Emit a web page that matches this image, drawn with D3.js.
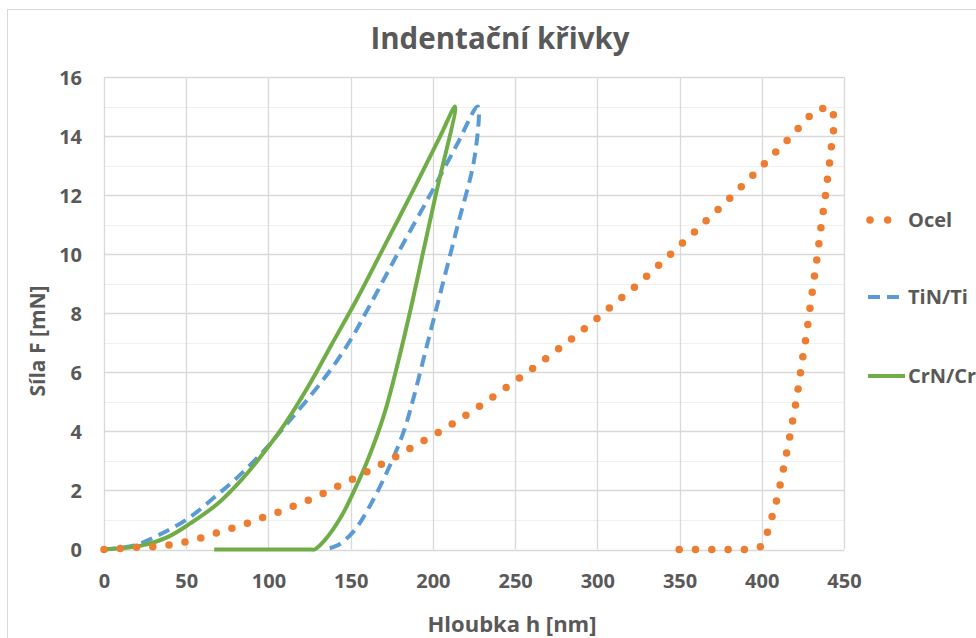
<!DOCTYPE html>
<html>
<head>
<meta charset="utf-8">
<script src="https://cdn.jsdelivr.net/npm/d3@7"></script>
<style>
  html, body { margin: 0; padding: 0; background: #fff; }
  svg { display: block; }
  text { font-family: "Open Sans", "Liberation Sans", sans-serif; font-weight: bold; fill: #595959; }
</style>
</head>
<body>
<svg id="chart" width="976" height="638"></svg>
<script>
// ---- Data ----
const chartTitle = "Indentační křivky";
const xTitle = "Hloubka h [nm]";
const yTitle = "Síla F [mN]";
const xTicks = [0, 50, 100, 150, 200, 250, 300, 350, 400, 450];
const yTicks = [0, 2, 4, 6, 8, 10, 12, 14, 16];
const yMinorTicks = [1, 3, 5, 7, 9, 11, 13, 15];
const seriesNames = ["Ocel", "TiN/Ti", "CrN/Cr"];

// Ocel (steel): loading then unloading
const ocelH = [0, 21.5, 31, 41.4, 51.3, 61, 70.5, 80.3, 90, 99.5, 109, 118.6, 128, 137, 146, 155, 164, 173.5, 182, 191, 200, 209, 217.5, 226, 234,
  242, 250, 258, 266, 274, 282, 290, 298.5, 307.5, 315, 322.7, 330.6, 338, 345.4, 353, 360.4, 367.7, 375.2, 382.5, 389.6, 396.7, 404, 411, 418, 425, 432, 441.3,
  444.5, 443.3, 442, 440.9, 439.5, 438.3, 436.8, 435.4, 434.2, 432.8, 431.3, 430, 428.5, 427.3, 425.5, 424, 422.6, 421, 419.2, 417.4, 415.5, 413.5, 411.5, 409.3, 406.6, 403.8, 399.5,
  390.6, 380.5, 370.4, 360, 349.7];
const ocelF = [0, 0.08, 0.1, 0.16, 0.28, 0.42, 0.6, 0.76, 0.94, 1.15, 1.32, 1.55, 1.75, 2.0, 2.25, 2.48, 2.76, 3.02, 3.29, 3.58, 3.86, 4.15, 4.45, 4.76, 5.07,
  5.38, 5.70, 6.02, 6.35, 6.69, 7.03, 7.38, 7.76, 8.19, 8.54, 8.89, 9.28, 9.66, 10.04, 10.44, 10.82, 11.22, 11.6, 12.0, 12.4, 12.79, 13.2, 13.6, 14.0, 14.44, 14.85, 15.0,
  14.6, 14.04, 13.5, 12.93, 12.36, 11.8, 11.24, 10.68, 10.11, 9.55, 8.98, 8.44, 7.86, 7.3, 6.73, 6.17, 5.62, 5.05, 4.49, 3.93, 3.38, 2.82, 2.27, 1.72, 1.18, 0.63, 0.1,
  0, 0, 0, 0, 0];

// TiN/Ti
const tinH = [0, 18.4, 32.6, 50.9, 67.1, 81.3, 97.5, 109.6, 124, 138, 150, 161, 178.6, 198.8, 215, 227.2,
  225.4, 215.2, 206, 196.8, 187.6, 182.3, 173.5, 162.4, 152.2, 142.1, 134];
const tinF = [0, 0.14, 0.47, 1.04, 1.77, 2.45, 3.36, 4.15, 5.1, 6.1, 7.1, 8.2, 10.02, 12.06, 13.75, 15,
  13.3, 11, 9, 7, 5, 4, 2.8, 1.55, 0.64, 0.14, 0];

// CrN/Cr
const crnH = [0, 22.5, 38.7, 52.9, 69.1, 83.3, 97.5, 110, 124, 138, 154, 168, 186.5, 204.5, 213.5,
  201.7, 193.8, 187.7, 179.6, 170.5, 160.3, 152.2, 144.1, 134, 128, 126, 100, 67];
const crnF = [0, 0.13, 0.42, 0.9, 1.55, 2.34, 3.3, 4.25, 5.5, 6.9, 8.5, 10, 12, 14, 15,
  12, 10, 8.44, 6.52, 4.6, 3.02, 2.0, 1.1, 0.3, 0, 0, 0, 0];

const seriesColors = ["#ED7D31", "#5B9BD5", "#70AD47"];

// ---- Drawing ----
const svg = d3.select("#chart");
const x = d3.scaleLinear().domain([0, 450]).range([104, 844]);
const y = d3.scaleLinear().domain([0, 16]).range([549.5, 77]);

// outer chart frame
svg.append("rect").attr("x", 7.5).attr("y", 9.5).attr("width", 1100).attr("height", 800)
  .attr("fill", "none").attr("stroke", "#d9d9d9").attr("stroke-width", 1);

// gridlines
const grid = svg.append("g");
grid.selectAll("line.minor").data(yMinorTicks).join("line")
  .attr("x1", x(0)).attr("x2", x(450))
  .attr("y1", d => Math.round(y(d)) + 0.5).attr("y2", d => Math.round(y(d)) + 0.5)
  .attr("stroke", "#f0f0f0").attr("stroke-width", 1);
grid.selectAll("line.majory").data(yTicks).join("line")
  .attr("x1", x(0)).attr("x2", x(450))
  .attr("y1", d => Math.round(y(d)) + 0.5).attr("y2", d => Math.round(y(d)) + 0.5)
  .attr("stroke", "#d9d9d9").attr("stroke-width", 1.3);
grid.selectAll("line.majorx").data(xTicks).join("line")
  .attr("y1", y(0)).attr("y2", y(16))
  .attr("x1", d => Math.round(x(d)) + 0.5).attr("x2", d => Math.round(x(d)) + 0.5)
  .attr("stroke", "#d9d9d9").attr("stroke-width", 1.3);

// axes (labels only)
const yAxis = svg.append("g").attr("transform", `translate(${x(0)},0)`)
  .call(d3.axisLeft(y).tickValues(yTicks).tickSize(0).tickPadding(22).tickFormat(d3.format("d")));
yAxis.select(".domain").remove();
yAxis.selectAll("text").style("font-size", "20px").attr("dy", "0.36em");

const xAxis = svg.append("g").attr("transform", `translate(0,${y(0)})`)
  .call(d3.axisBottom(x).tickValues(xTicks).tickSize(0).tickPadding(24).tickFormat(d3.format("d")));
xAxis.select(".domain").remove();
xAxis.selectAll("text").style("font-size", "20px");

// series
const line = d3.line().x(d => x(d[0])).y(d => y(d[1])).curve(d3.curveCatmullRom.alpha(0.5));
const zip = (a, b) => a.map((v, i) => [v, b[i]]);

svg.append("path").datum(zip(tinH, tinF)).attr("d", line)
  .attr("fill", "none").attr("stroke", seriesColors[1]).attr("stroke-width", 4)
  .attr("stroke-dasharray", "12 7");
svg.append("path").datum(zip(crnH, crnF)).attr("d", line)
  .attr("fill", "none").attr("stroke", seriesColors[2]).attr("stroke-width", 4)
  .attr("stroke-linejoin", "round");
const ocelPath = svg.append("path").datum(zip(ocelH, ocelF)).attr("d", d3.line().x(d => x(d[0])).y(d => y(d[1])))
  .attr("fill", "none").attr("stroke", seriesColors[0]).attr("stroke-width", 7.5)
  .attr("stroke-linecap", "round");
// round-dot pattern: spacing just under 16.4px so a dot lands at both path ends
const ocelLen = ocelPath.node().getTotalLength();
const dotGap = ocelLen / Math.ceil(ocelLen / 16.4) * 0.9999;
ocelPath.attr("stroke-dasharray", `0 ${dotGap}`);

// title
svg.append("text").attr("x", 500).attr("y", 49).attr("text-anchor", "middle")
  .style("font-size", "29.5px").text(chartTitle);
// axis titles
svg.append("text").attr("x", 512).attr("y", 632).attr("text-anchor", "middle")
  .style("font-size", "22px").text(xTitle);
svg.append("text").attr("transform", "translate(45,341) rotate(-90)").attr("text-anchor", "middle")
  .style("font-size", "21px").text(yTitle);

// legend
const legY = [220, 297, 376];
const leg = svg.append("g");
seriesNames.forEach((name, i) => {
  const g = leg.append("g");
  if (i === 0) {
    g.append("line").attr("x1", 870).attr("x2", 895).attr("y1", legY[i]).attr("y2", legY[i])
      .attr("stroke", seriesColors[i]).attr("stroke-width", 7.5)
      .attr("stroke-linecap", "round").attr("stroke-dasharray", "0 17.7");
  } else if (i === 1) {
    g.append("line").attr("x1", 868).attr("x2", 899).attr("y1", legY[i]).attr("y2", legY[i])
      .attr("stroke", seriesColors[i]).attr("stroke-width", 4).attr("stroke-dasharray", "12 7");
  } else {
    g.append("line").attr("x1", 868).attr("x2", 905).attr("y1", legY[i]).attr("y2", legY[i])
      .attr("stroke", seriesColors[i]).attr("stroke-width", 4);
  }
  g.append("text").attr("x", 908).attr("y", legY[i]).attr("dy", "0.36em")
    .style("font-size", "20px").text(name);
});
</script>
</body>
</html>
